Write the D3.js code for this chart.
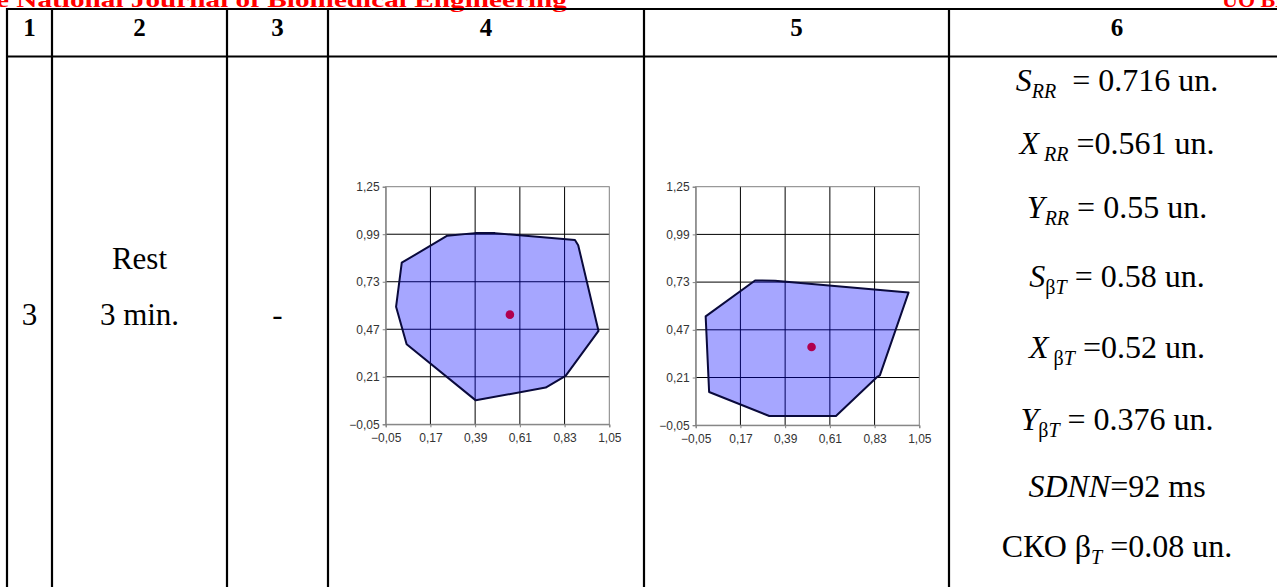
<!DOCTYPE html>
<html><head><meta charset="utf-8">
<script src="https://cdn.jsdelivr.net/npm/d3@7"></script>
<style>
body{margin:0;background:#fff}
svg{display:block}
text{white-space:pre}
.serif{font-family:"Liberation Serif","Times New Roman",Tinos,"DejaVu Serif",serif}
.sans{font-family:"Liberation Sans",Arial,Arimo,sans-serif}
</style>
</head><body>
<svg id="c" width="1277" height="587"></svg>
<script>
// ---------- DATA ----------
const journalLeft = "e National Journal of Biomedical Engineering";
const journalRight = "UO BME";
const headerLabels = ["1", "2", "3", "4", "5", "6"];
const rowNumber = "3";
const stageLines = ["Rest", "3 min."];
const intervention = "-";
const xTicks = [-0.05, 0.17, 0.39, 0.61, 0.83, 1.05];
const yTicks = [-0.05, 0.21, 0.47, 0.73, 0.99, 1.25];
// Scatterogram hull of RR intervals (column 4)
const hullRR = [[0.029,0.834],[0.253,0.982],[0.389,0.996],[0.488,0.996],[0.881,0.958],[0.897,0.930],
                [0.997,0.461],[0.835,0.215],[0.737,0.151],[0.393,0.081],[0.053,0.388],[0.001,0.593]];
const centroidRR = [0.561, 0.55];
// Scatterogram hull of betaT (column 5)
const hullBT = [[-0.001,0.543],[0.242,0.739],[0.340,0.737],[0.997,0.673],[0.856,0.222],[0.845,0.215],
                [0.640,0.0],[0.312,0.0],[0.016,0.131]];
const centroidBT = [0.52, 0.376];
// Statistics (column 6): segments [text, kind]
const statLines = [
  [["S","i"],["RR","isub"],["  = 0.716 un.","n"]],
  [["X","i"],[" RR","isub"],[" =0.561 un.","n"]],
  [["Y","i"],["RR","isub"],[" = 0.55 un.","n"]],
  [["S","i"],["β","sub"],["T","isub"],[" = 0.58 un.","n"]],
  [["X","i"],[" β","sub"],["T","isub"],[" =0.52 un.","n"]],
  [["Y","i"],["β","sub"],["T","isub"],[" = 0.376 un.","n"]],
  [["SDNN","i"],["=92 ms","n"]],
  [["СКО β","n"],["T","isub"],[" =0.08 un.","n"]]
];

// ---------- LAYOUT ----------
const svg = d3.select("#c");
const colEdges = [7, 52, 227, 328, 644, 949, 1285];
const topY = 9, headY = 56.5;

// journal header (clipped at top, as in the source page)
svg.append("text").attr("class", "serif").attr("x", -4).attr("y", 6.5).attr("font-weight", "bold")
  .attr("font-size", 22).attr("fill", "#ff0000").attr("textLength", 571).attr("lengthAdjust","spacingAndGlyphs")
  .text(journalLeft);
svg.append("text").attr("class", "serif").attr("x", 1222).attr("y", 6.5).attr("font-weight", "bold")
  .attr("font-size", 22).attr("fill", "#ff0000").text(journalRight);

// table lines
const lines = svg.append("g").attr("stroke", "#000").attr("stroke-width", 2.2);
[topY, headY].forEach(y => lines.append("line").attr("x1", 6).attr("x2", 1290).attr("y1", y).attr("y2", y));
colEdges.forEach(x => lines.append("line").attr("x1", x).attr("x2", x).attr("y1", topY - 1).attr("y2", 600));

// header numbers
headerLabels.forEach((t, i) => {
  svg.append("text").attr("class", "serif").attr("x", (colEdges[i] + colEdges[i + 1]) / 2).attr("y", 36)
    .attr("text-anchor", "middle").attr("font-weight", "bold").attr("font-size", 25).text(t);
});

// row cells
const cell = (x, y, t) => svg.append("text").attr("class", "serif").attr("x", x).attr("y", y)
  .attr("text-anchor", "middle").attr("font-size", 31).text(t);
cell((colEdges[0] + colEdges[1]) / 2, 325, rowNumber);
stageLines.forEach((t, i) => cell((colEdges[1] + colEdges[2]) / 2, 269 + i * 56, t));
cell((colEdges[2] + colEdges[3]) / 2, 325, intervention);

// charts
const fmt = v => d3.format(".2f")(v).replace(".", ",");
function chart(x0, y0, w, h, hull, centroid) {
  const x = d3.scaleLinear().domain([xTicks[0], xTicks[xTicks.length - 1]]).range([x0, x0 + w]);
  const y = d3.scaleLinear().domain([yTicks[0], yTicks[yTicks.length - 1]]).range([y0 + h, y0]);
  const g = svg.append("g");
  const grid = g.append("g").attr("stroke", "#000").attr("stroke-width", 1);
  xTicks.slice(1, -1).forEach(v => grid.append("line").attr("x1", x(v)).attr("x2", x(v)).attr("y1", y0).attr("y2", y0 + h));
  yTicks.slice(1, -1).forEach(v => grid.append("line").attr("y1", y(v)).attr("y2", y(v)).attr("x1", x0).attr("x2", x0 + w));
  g.append("rect").attr("x", x0).attr("y", y0).attr("width", w).attr("height", h)
    .attr("fill", "none").attr("stroke", "#808080").attr("stroke-width", 1);
  g.append("path").attr("d", d3.line().x(d => x(d[0])).y(d => y(d[1]))(hull) + "Z")
    .attr("fill", "rgb(0,0,255)").attr("fill-opacity", 0.35)
    .attr("stroke", "#0a0a3c").attr("stroke-width", 2).attr("stroke-linejoin", "round");
  g.append("circle").attr("cx", x(centroid[0])).attr("cy", y(centroid[1])).attr("r", 4.3).attr("fill", "#b0004e");
  const ax = g.append("g").attr("transform", `translate(0,${y0 + h})`)
    .call(d3.axisBottom(x).tickValues(xTicks).tickSize(3).tickPadding(6).tickFormat(fmt));
  const ay = g.append("g").attr("transform", `translate(${x0},0)`)
    .call(d3.axisLeft(y).tickValues(yTicks).tickSize(3).tickPadding(3).tickFormat(fmt));
  [ax, ay].forEach(a => {
    a.attr("font-family", null).attr("font-size", null);
    a.select(".domain").attr("stroke", "#808080");
    a.selectAll(".tick line").attr("stroke", "#808080");
    a.selectAll("text").attr("class", "sans").attr("font-size", 12).attr("fill", "#333");
  });
}
chart(385.7, 186.7, 223.6, 237.6, hullRR, centroidRR);
chart(695.7, 186.7, 223.6, 238.5, hullBT, centroidBT);

// statistics column
const statY = [91, 154, 218, 287, 358, 430, 497, 557];
statLines.forEach((segs, i) => {
  const t = svg.append("text").attr("class", "serif").attr("x", 1117).attr("y", statY[i])
    .attr("text-anchor", "middle").attr("font-size", 32);
  let shifted = false;
  segs.forEach(([s, k]) => {
    const sp = t.append("tspan").text(s);
    const isSub = k.includes("sub");
    if (k.startsWith("i")) sp.attr("font-style", "italic");
    if (isSub) sp.attr("font-size", 20);
    if (isSub && !shifted) { sp.attr("dy", 7); shifted = true; }
    else if (!isSub && shifted) { sp.attr("dy", -7); shifted = false; }
  });
});
</script>
</body></html>
